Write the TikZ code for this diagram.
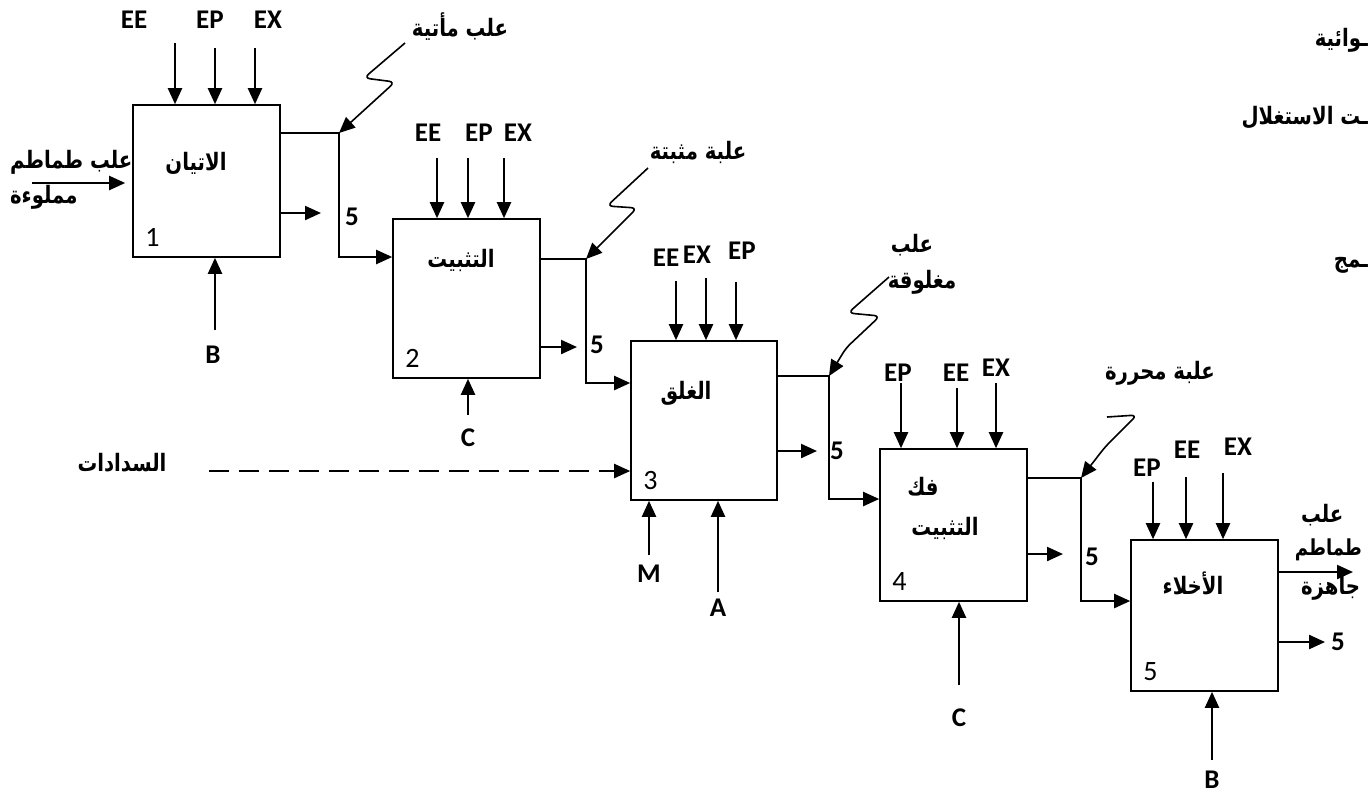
\documentclass[tikz,border=0pt]{standalone}
\usepackage{fontspec}
\setmainfont{Carlito}
\newfontfamily\arabicfont[Script=Arabic,FakeStretch=0.82]{DejaVu Sans}
\TeXXeTstate=1
\newcommand{\artxt}[1]{{\arabicfont\bfseries\beginR #1\endR}}
\usetikzlibrary{arrows.meta}

\begin{document}
\begin{tikzpicture}[x=0.5pt,y=-0.5pt,>={Triangle[length=8pt,width=7pt]},line width=1.1pt,
 blk/.style={draw,line width=0.8pt,minimum width=73.5pt,inner sep=0pt},
 lbl/.style={font=\bfseries\fontsize{13.5}{15}\selectfont,inner sep=0pt},
 num/.style={font=\fontsize{14}{16}\selectfont,anchor=south west,inner sep=0pt,xshift=6pt,yshift=5pt},
 ar/.style={font=\fontsize{12}{14}\selectfont,inner sep=0pt},
 squig/.style={->,line width=0.8pt,rounded corners=3pt}]
\useasboundingbox (0,0) rectangle (1369,800);
\node[blk,minimum height=76pt] (b1) at (206.5,181) {}; \node[blk,minimum height=79.5pt] (b2) at (466.5,298.5) {};
\node[blk,minimum height=79.5pt,minimum width=73pt] (b3) at (704,420.5) {}; \node[blk,minimum height=76pt] (b4) at (953.5,525) {};
\node[blk,minimum height=75.5pt] (b5) at (1204.5,615.5) {};
\node[ar] (t1) at (196,163) {\artxt{الاتيان}}; \node[ar] (t2) at (461,260) {\artxt{التثبيت}}; \node[ar] (t3) at (686,393) {\artxt{الغلق}};
\node[ar] (t4a) at (923,487) {\artxt{فك}}; \node[ar] (t4b) at (945,528) {\artxt{التثبيت}}; \node[ar] (t5) at (1193,583) {\artxt{الأخلاء}};
\node[num] (n1) at (b1.south west) {1}; \node[num] (n2) at (b2.south west) {2}; \node[num] (n3) at (b3.south west) {3};
\node[num] (n4) at (b4.south west) {4}; \node[num] (n5) at (b5.south west) {5};

\node[lbl] (lee1) at (134,20) {EE}; \node[lbl] (lep1) at (210,20) {EP}; \node[lbl] (lex1) at (268,20) {EX};
\coordinate (ee1) at (175,43); \coordinate (ep1) at (215,48); \coordinate (ex1) at (255,48);
\path[->] (ee1) edge (ee1 |- b1.north) (ep1) edge (ep1 |- b1.north) (ex1) edge (ex1 |- b1.north);
\node[lbl] (lee2) at (428,133) {EE}; \node[lbl] (lep2) at (479,133) {EP}; \node[lbl] (lex2) at (518,133) {EX};
\coordinate (ee2) at (437,158); \coordinate (ep2) at (468,158); \coordinate (ex2) at (504,158);
\path[->] (ee2) edge (ee2 |- b2.north) (ep2) edge (ep2 |- b2.north) (ex2) edge (ex2 |- b2.north);
\node[lbl] (lee3) at (666,258) {EE}; \node[lbl] (lex3) at (697,255) {EX}; \node[lbl] (lep3) at (742,251) {EP};
\coordinate (ee3) at (676,281); \coordinate (ex3) at (706,278); \coordinate (ep3) at (736,282);
\path[->] (ee3) edge (ee3 |- b3.north) (ex3) edge (ex3 |- b3.north) (ep3) edge (ep3 |- b3.north);
\node[lbl] (lep4) at (898,373) {EP}; \node[lbl] (lee4) at (956,373) {EE}; \node[lbl] (lex4) at (996,368) {EX};
\coordinate (ep4) at (901,383); \coordinate (ee4) at (957,388); \coordinate (ex4) at (996,383);
\path[->] (ep4) edge (ep4 |- b4.north) (ee4) edge (ee4 |- b4.north) (ex4) edge (ex4 |- b4.north);
\node[lbl] (lep5) at (1147,468) {EP}; \node[lbl] (lee5) at (1187,450) {EE}; \node[lbl] (lex5) at (1238,447) {EX};
\coordinate (ep5) at (1153,482); \coordinate (ee5) at (1186,477); \coordinate (ex5) at (1223,473);
\path[->] (ep5) edge (ep5 |- b5.north) (ee5) edge (ee5 |- b5.north) (ex5) edge (ex5 |- b5.north);

\node[lbl] (lb1) at (213,355) {B}; \node[lbl] (lc2) at (468,438) {C}; \node[lbl] (lm3) at (649,574) {M};
\node[lbl] (la3) at (718,608) {A}; \node[lbl] (lc4) at (959,718) {C}; \node[lbl] (lb5) at (1212,780) {B};
\coordinate (bb1) at (215,330); \coordinate (cc2) at (468,415); \coordinate (mm3) at (649,555);
\coordinate (aa3) at (718,592); \coordinate (cc4) at (959,685); \coordinate (bb5) at (1212,760);
\path[->] (bb1) edge (bb1 |- b1.south) (cc2) edge (cc2 |- b2.south) (mm3) edge (mm3 |- b3.south)
 (aa3) edge (aa3 |- b3.south) (cc4) edge (cc4 |- b4.south) (bb5) edge (bb5 |- b5.south);

\node[ar,anchor=west] (q1) at (9,162) {\artxt{علب طماطم}}; \node[ar,anchor=west] (q2) at (9,197) {\artxt{مملوءة}};
\coordinate (i1) at (32,183); \draw[->,shorten >=3.5pt] (i1) -- (i1 -| b1.west);

\coordinate (j1) at (339,133); \coordinate (k1) at (339,257); \draw[->] (j1 -| b1.east) -- (j1) -- (k1) -- (k1 -| b2.west);
\coordinate (j2) at (586,259); \coordinate (k2) at (586,383); \draw[->] (j2 -| b2.east) -- (j2) -- (k2) -- (k2 -| b3.west);
\coordinate (j3) at (829,376); \coordinate (k3) at (829,499); \draw[->] (j3 -| b3.east) -- (j3) -- (k3) -- (k3 -| b4.west);
\coordinate (j4) at (1081,478); \coordinate (k4) at (1081,601); \draw[->] (j4 -| b4.east) -- (j4) -- (k4) -- (k4 -| b5.west);

\coordinate (s1) at (321,213); \draw[->] (s1 -| b1.east) -- (s1); \node[lbl] (f1) at (352,217) {5};
\coordinate (s2) at (577,347); \draw[->] (s2 -| b2.east) -- (s2); \node[lbl] (f2) at (597,345) {5};
\coordinate (s3) at (817,451); \draw[->] (s3 -| b3.east) -- (s3); \node[lbl] (f3) at (837,451) {5};
\coordinate (s4) at (1063,554); \draw[->] (s4 -| b4.east) -- (s4); \node[lbl] (f4) at (1092,557) {5};
\node[lbl] (f5) at (1338,642) {5}; \draw[->,shorten >=2.5pt] (f5 -| b5.east) -- (f5.west);

\coordinate (o5) at (1353,572); \draw[->] (o5 -| b5.east) -- (o5);
\node[ar,anchor=west] (p1) at (1300,515) {\artxt{علب}}; \node[ar,anchor=east,font=\fontsize{11}{13}\selectfont] (p2) at (1363,550) {\artxt{طماطم}};
\node[ar,anchor=west] (p3) at (1300,588) {\artxt{جاهزة}};

\node[ar] (s0) at (122,463) {\artxt{السدادات}}; \coordinate (d0) at (209,471);
\draw[->,dash pattern=on 10pt off 5pt] (d0) -- (d0 -| b3.west);

\node[ar] (w1) at (460,27) {\artxt{علب مأتية}}; \coordinate (v1) at (405,43);
\draw[squig] (v1) -- (364,78) -- (395,82) -- (j1);
\node[ar] (w2) at (698,152) {\artxt{علبة مثبتة}}; \coordinate (v2) at (648,168);
\draw[squig] (v2) -- (607,206) -- (637,208) -- (j2);
\node[ar] (w3a) at (912,245) {\artxt{علب}}; \node[ar] (w3b) at (922,282) {\artxt{مغلوقة}}; \coordinate (v3) at (889,277);
\draw[squig] (v3) -- (848,313) -- (880,316) -- (846,348) -- (j3);
\node[ar] (w4) at (1160,373) {\artxt{علبة محررة}}; \coordinate (v4) at (1107,417);
\draw[squig] (v4) -- (1137,415) -- (1105,447) -- (j4);

\node[ar,anchor=east] (r1) at (1369,40) {\artxt{ـوائية}}; \node[ar,anchor=east] (r2) at (1369,118) {\artxt{ـت الاستغلال}};
\node[ar,anchor=east] (r3) at (1369,265) {\artxt{ـمج}};
\end{tikzpicture}
\end{document}
